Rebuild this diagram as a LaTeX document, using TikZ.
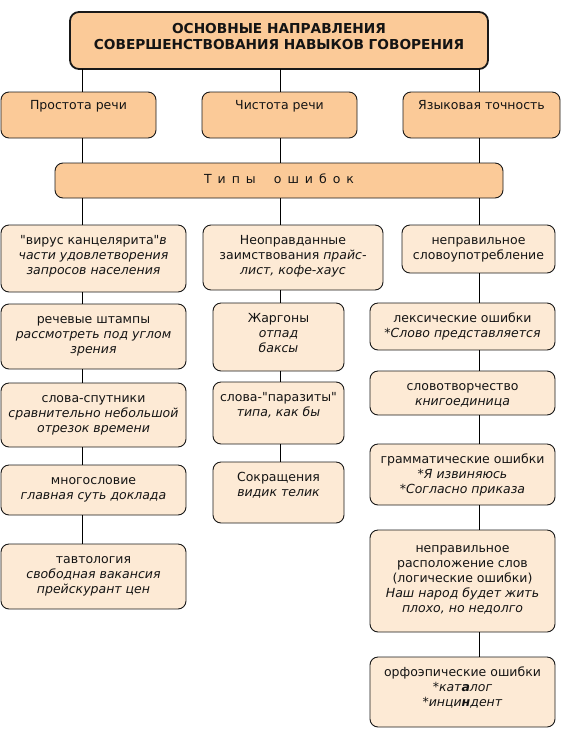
\documentclass[tikz,border=0pt]{standalone}
\usepackage{fontspec}
\setmainfont{DejaVu Sans}[Ligatures=TeXOff]
\definecolor{peach}{RGB}{251,202,152}
\definecolor{lightpeach}{RGB}{253,234,213}
\definecolor{edgecol}{RGB}{25,25,25}
\definecolor{txtcol}{RGB}{20,20,20}
\tikzset{
  topbox/.style={draw=edgecol, line width=0.9pt, fill=peach, rounded corners=8pt, inner sep=0pt, outer sep=0pt},
  lowbox/.style={draw=edgecol, line width=0.9pt, fill=lightpeach, rounded corners=8pt, inner sep=0pt, outer sep=0pt},
  titlebox/.style={draw=edgecol, line width=1.8pt, fill=peach, rounded corners=9pt, inner sep=0pt, outer sep=0pt},
  txt/.style={font=\fontsize{12.5}{15}\selectfont, align=center, inner sep=0pt, text=txtcol},
  conn/.style={draw=black, line width=0.8pt}
}
\newcommand\mkbox[8][9]{%
  \node[#7, anchor=north west, minimum width={(#5-#3)*1pt}, minimum height={(#6-#4)*1pt}] (#2) at (#3,#4) {};
  \node[txt, anchor=north] (#2t) at ([yshift=-#1pt]#2.north) {\strut #8};}
\begin{document}
\begin{tikzpicture}[x=1pt,y=-1pt]
\useasboundingbox (0,0) rectangle (566,740);
\coordinate (L1) at (82,0);
\coordinate (L2) at (280,0);
\coordinate (L3) at (479,0);
% title
\node[titlebox, anchor=north west, minimum width=418pt, minimum height=57pt] (title) at (70,12) {};
\node[txt, font=\fontsize{13.7}{15.5}\selectfont\bfseries] (titlet) at ([yshift=4pt]title.center) {ОСНОВНЫЕ НАПРАВЛЕНИЯ\\СОВЕРШЕНСТВОВАНИЯ НАВЫКОВ ГОВОРЕНИЯ};
% second level
\mkbox[7]{pr}{1}{92}{156}{138}{topbox}{Простота речи}
\mkbox[7]{ch}{202}{92}{357}{138}{topbox}{Чистота речи}
\mkbox[7]{ya}{403}{92}{560}{138}{topbox}{Языковая точность}
\node[topbox, anchor=north west, minimum width=448pt, minimum height=35pt] (tipy) at (55,163) {};
\node[txt] (tipyt) at ([yshift=2pt]tipy.center) {\spaceskip=6pt Т и п ы\hspace{18pt}о ш и б о к};
% column 1
\mkbox{a1}{1}{225}{186}{292}{lowbox}{"вирус канцелярита"\textit{в}\\\textit{части удовлетворения}\\\textit{запросов населения}}
\mkbox{a2}{1}{304}{186}{369}{lowbox}{речевые штампы\\\textit{рассмотреть под углом}\\\textit{зрения}}
\mkbox{a3}{1}{383}{186}{447}{lowbox}{слова-спутники\\\textit{сравнительно небольшой}\\\textit{отрезок времени}}
\mkbox{a4}{1}{465}{186}{515}{lowbox}{многословие\\\textit{главная суть доклада}}
\mkbox{a5}{1}{544}{186}{609}{lowbox}{тавтология\\\textit{свободная вакансия}\\\textit{прейскурант цен}}
% column 2
\mkbox{b1}{203}{225}{383}{290}{lowbox}{Неоправданные\\заимствования \textit{прайс-}\\\textit{лист, кофе-хаус}}
\mkbox{b2}{213}{303}{344}{371}{lowbox}{Жаргоны\\\textit{отпад}\\\textit{баксы}}
\mkbox{b3}{213}{382}{344}{444}{lowbox}{слова-"паразиты"\\\textit{типа, как бы}}
\mkbox{b4}{213}{462}{344}{523}{lowbox}{Сокращения\\\textit{видик телик}}
% column 3
\mkbox{c1}{402}{225}{555}{273}{lowbox}{неправильное\\словоупотребление}
\mkbox{c2}{370}{303}{555}{350}{lowbox}{лексические ошибки\\\textit{*Слово представляется}}
\mkbox{c3}{370}{371}{555}{415}{lowbox}{словотворчество\\\textit{книгоединица}}
\mkbox{c4}{370}{444}{555}{505}{lowbox}{грамматические ошибки\\\textit{*Я извиняюсь}\\\textit{*Согласно приказа}}
\mkbox[12]{c5}{370}{530}{555}{632}{lowbox}{неправильное\\расположение слов\\(логические ошибки)\\\textit{Наш народ будет жить}\\\textit{плохо, но недолго}}
\mkbox{c6}{370}{657}{555}{727}{lowbox}{орфоэпические ошибки\\\textit{*кат\textbf{а}лог}\\\textit{*инци\textbf{н}дент}}
% connectors
\draw[conn] (L1 |- title.south) -- (L1 |- pr.north);
\draw[conn] (L2 |- title.south) -- (L2 |- ch.north);
\draw[conn] (L3 |- title.south) -- (L3 |- ya.north);
\draw[conn] (L1 |- pr.south) -- (L1 |- tipy.north);
\draw[conn] (L2 |- ch.south) -- (L2 |- tipy.north);
\draw[conn] (L3 |- ya.south) -- (L3 |- tipy.north);
\draw[conn] (L1 |- tipy.south) -- (L1 |- a1.north);
\draw[conn] (L1 |- a1.south) -- (L1 |- a2.north);
\draw[conn] (L1 |- a2.south) -- (L1 |- a3.north);
\draw[conn] (L1 |- a3.south) -- (L1 |- a4.north);
\draw[conn] (L1 |- a4.south) -- (L1 |- a5.north);
\draw[conn] (L2 |- tipy.south) -- (L2 |- b1.north);
\draw[conn] (L2 |- b1.south) -- (L2 |- b2.north);
\draw[conn] (L2 |- b2.south) -- (L2 |- b3.north);
\draw[conn] (L2 |- b3.south) -- (L2 |- b4.north);
\draw[conn] (L3 |- tipy.south) -- (L3 |- c1.north);
\draw[conn] (L3 |- c1.south) -- (L3 |- c2.north);
\draw[conn] (L3 |- c2.south) -- (L3 |- c3.north);
\draw[conn] (L3 |- c3.south) -- (L3 |- c4.north);
\draw[conn] (L3 |- c4.south) -- (L3 |- c5.north);
\draw[conn] (L3 |- c5.south) -- (L3 |- c6.north);
\end{tikzpicture}
\end{document}
